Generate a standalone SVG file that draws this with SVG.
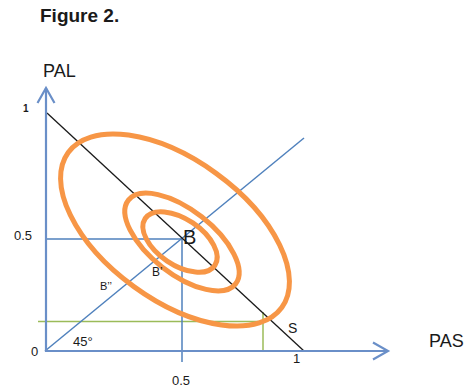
<svg xmlns="http://www.w3.org/2000/svg" width="467" height="389" viewBox="0 0 467 389">
<defs>
<marker id="arr" markerUnits="userSpaceOnUse" markerWidth="20" markerHeight="20" viewBox="-17 -10 20 20" refX="0" refY="0" orient="auto" overflow="visible">
<path d="M -15 -8.5 L 0 0 L -15 8.5" fill="none" stroke="#6A8FC8" stroke-width="2.2" stroke-linejoin="miter"/>
</marker>
<style>
.ax{stroke:#6A8FC8;stroke-width:2.2;fill:none}
.bl{stroke:#4F81BD;stroke-width:1.5;fill:none}
.gr{stroke:#9BBB59;stroke-width:1.5;fill:none}
.sl{stroke:#1a1a1a;stroke-width:1.3;fill:none}
.el{stroke:#F79646;stroke-width:5;fill:none}
text{font-family:"Liberation Sans",Arial,sans-serif;fill:#1a1a1a}
.sm{font-size:13px}
.lb{font-size:18px}
</style>
</defs>
<text x="40" y="22" style="font-size:19px;font-weight:bold">Figure 2.</text>
<g id="connectors">
<line class="gr" x1="38" y1="321.5" x2="263" y2="321.5"/>
<line class="gr" x1="263" y1="312" x2="263" y2="351"/>
<line class="bl" x1="45" y1="351" x2="304" y2="138"/>
<line class="bl" x1="46" y1="239" x2="182" y2="239"/>
<line class="bl" x1="182" y1="239" x2="182" y2="362"/>
<line class="sl" x1="47" y1="113" x2="304" y2="351"/>
<line class="ax" x1="46" y1="352" x2="46" y2="88" marker-end="url(#arr)"/>
<line class="ax" x1="45" y1="351" x2="388" y2="351" marker-end="url(#arr)"/>
</g>
<g id="ellipses">
<ellipse class="el" cx="175" cy="230" rx="132" ry="70" transform="rotate(36 175 230)"/>
<ellipse class="el" cx="182" cy="242" rx="68" ry="32" transform="rotate(38 182 242)"/>
<ellipse class="el" cx="180" cy="242" rx="42" ry="23" transform="rotate(34 180 242)"/>
</g>
<g id="labels">
<text class="lb" x="43" y="77">PAL</text>
<text class="lb" x="429" y="347">PAS</text>
<text x="23" y="112" style="font-size:10px;font-weight:bold">1</text>
<text class="sm" x="14" y="240">0.5</text>
<text class="sm" x="31" y="356">0</text>
<text class="sm" x="73" y="346">45°</text>
<text class="sm" x="172" y="385">0.5</text>
<text class="sm" x="293" y="363">1</text>
<text style="font-size:14px" x="288" y="333">S</text>
<text style="font-size:20px" x="183" y="244">B</text>
<text style="font-size:12px" x="152" y="276">B’</text>
<text style="font-size:11px" x="100" y="290">B’’</text>
</g>
</svg>
